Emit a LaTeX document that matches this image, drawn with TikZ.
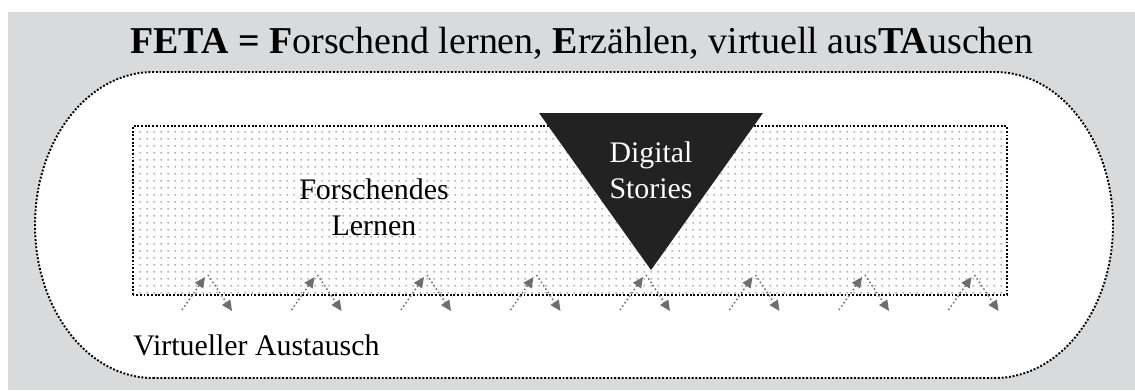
\documentclass[tikz,border=0pt]{standalone}
\usepackage{fontspec}
\setmainfont{Liberation Serif}
\usepackage{tikz}
\usetikzlibrary{calc}
\usetikzlibrary{arrows.meta}
\usetikzlibrary{patterns.meta}
\definecolor{bggray}{HTML}{D9DADC}
\definecolor{arrgray}{HTML}{6E6E6E}
\definecolor{tridark}{HTML}{222222}
\tikzset{
  every node/.style={font=\fontsize{17}{20}\selectfont, inner sep=0pt},
  bigtitle/.style={font=\fontsize{21.6}{26}\selectfont},
  rim/.style={densely dotted, line width=1.1pt, black},
  swap/.style={arrgray, line width=0.8pt, dash pattern=on 0.9pt off 1.4pt,
               -{Triangle[length=6pt, width=5.5pt]}}
}

\begin{document}
\begin{tikzpicture}[x=0.02cm, y=0.02cm]
                \useasboundingbox (0,0) rectangle (1135,390);
                \fill[bggray] (8,0) rectangle (1135,378);

                % outer stadium
                \draw[rim, fill=white] (153,12) -- (995,12) arc(-90:90:118 and 153)
                      -- (153,318) arc(90:270:118 and 153) -- cycle;

                % dotted field
                \fill[pattern={Dots[distance=4pt, radius=0.6pt]}, pattern color=gray!85] (133,95) rectangle (1007,264);
                \draw[rim] (133,95) rectangle (1007,264);

                % triangle
                \coordinate (tl) at (539,277);
                \coordinate (tr) at (763,277);
                \coordinate (tip) at (651,120);
                \fill[tridark] (tl) -- (tr) -- (tip) -- cycle;

                % exchange arrows
                \foreach \s in {182,291.5,401,510.5,620,729.5,839,948.5} {
                    \draw[swap] (\s,80) -- ++(23,33);
                    \draw[swap] (\s+26,115) -- ++(24,-36);
                }

                \node[bigtitle, anchor=base] (title) at (582,337)
                    {\textbf{FETA = F}orschend lernen, \textbf{E}rzählen, virtuell aus\textbf{TA}uschen};
                \node[anchor=base, align=center] (forsch) at (374,155) {Forschendes\\Lernen};
                \node[anchor=base, align=center, text=white] (digi) at (651,192) {Digital\\Stories};
                \node[anchor=base west] (virt) at (133,35) {Virtueller Austausch};
            \end{tikzpicture}
\end{document}
